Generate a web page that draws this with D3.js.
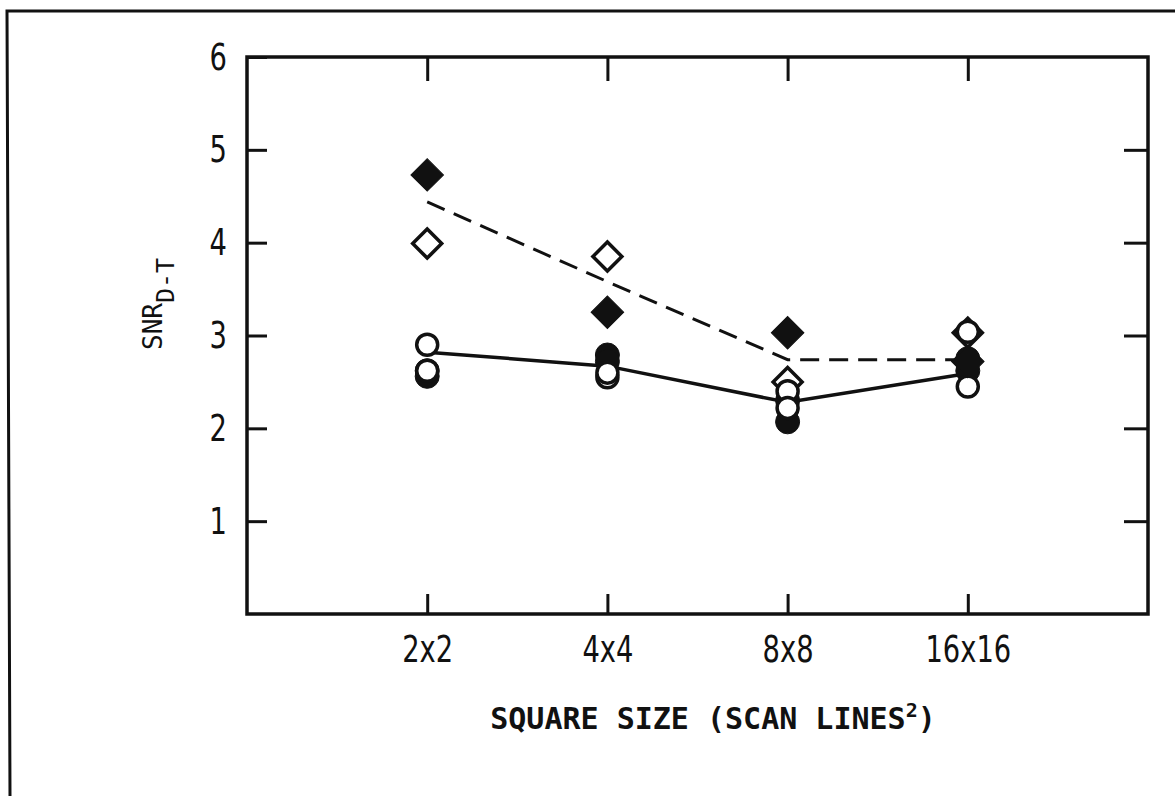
<!DOCTYPE html>
<meta charset="utf-8">
<script src="https://d3js.org/d3.v7.min.js"></script>
<style>
  body { margin: 0; background: #fff; }
</style>
<div id="chart"></div>
<script>

// categories (square side, in scan lines) and their position index on the log2 axis
var sizes = ["2x2", "4x4", "8x8", "16x16"];
var sizeIndex = [1, 2, 3, 4];
var yTicks = [1, 2, 3, 4, 5, 6];

// SNR values, one array per marker type
var filledDiamond = [4.73, 3.25, 3.03, 2.72];
var openDiamond   = [3.99, 3.85, 2.50, 3.03];
var filledCircleA = [2.62, 2.79, 2.07, 2.75];
var filledCircleB = [2.56, 2.72, 2.30, 2.62];
var openCircleA   = [2.90, 2.55, 2.40, 3.04];
var openCircleB   = [2.62, 2.60, 2.22, 2.45];

// mean lines
var diamondMean = [4.44, 3.58, 2.74, 2.74];
var circleMean  = [2.82, 2.67, 2.28, 2.59];

var W = 1175, H = 796;
var ink = "#111";

var svg = d3.select("#chart").append("svg")
    .attr("width", W)
    .attr("height", H)
    .style("background", "#fff");

// outer border of the page (only top and left visible)
svg.append("path")
    .attr("d", "M10,796 L7,11 L1175,11")
    .attr("fill", "none")
    .attr("stroke", ink)
    .attr("stroke-width", 3);

var plotL = 247, plotR = 1148, plotT = 57, plotB = 614;

var x = d3.scaleLinear().domain([0, 5]).range([plotL, plotR]);
var y = d3.scaleLinear().domain([0, 6]).range([plotB, plotT]);

// frame
svg.append("rect")
    .attr("x", plotL).attr("y", plotT)
    .attr("width", plotR - plotL).attr("height", plotB - plotT)
    .attr("fill", "none")
    .attr("stroke", ink)
    .attr("stroke-width", 3.5);

var tickFont = "'Liberation Sans Narrow', 'DejaVu Sans Condensed', sans-serif";

// left axis with labels
var gl = svg.append("g")
    .attr("transform", "translate(" + plotL + ",0)")
    .call(d3.axisLeft(y).tickValues(yTicks).tickFormat(d3.format("d"))
        .tickSizeInner(-20).tickSizeOuter(0).tickPadding(25));
// right axis, ticks only
var gr = svg.append("g")
    .attr("transform", "translate(" + plotR + ",0)")
    .call(d3.axisRight(y).tickValues([1, 2, 3, 4, 5])
        .tickSizeInner(-24).tickSizeOuter(0).tickFormat(""));
// bottom axis with labels
var gb = svg.append("g")
    .attr("transform", "translate(0," + plotB + ")")
    .call(d3.axisBottom(x).tickValues(sizeIndex)
        .tickFormat(function(d) { return sizes[d - 1]; })
        .tickSizeInner(-20).tickSizeOuter(0).tickPadding(21));
// top axis, ticks only
var gt = svg.append("g")
    .attr("transform", "translate(0," + plotT + ")")
    .call(d3.axisTop(x).tickValues(sizeIndex)
        .tickSizeInner(-24).tickSizeOuter(0).tickFormat(""));

[gl, gr, gb, gt].forEach(function(g) {
  g.select(".domain").remove();
  g.selectAll(".tick line").attr("stroke", ink).attr("stroke-width", 3);
  g.selectAll(".tick text")
    .attr("fill", ink)
    .attr("transform", "scale(0.8,1)")
    .style("font-family", tickFont)
    .style("font-size", "38px");
});

// mean lines
var line = d3.line()
    .x(function(d, i) { return x(sizeIndex[i]); })
    .y(function(d) { return y(d); });

svg.append("path")
    .datum(diamondMean)
    .attr("d", line)
    .attr("fill", "none")
    .attr("stroke", ink)
    .attr("stroke-width", 3)
    .attr("stroke-dasharray", "19,10");

svg.append("path")
    .datum(circleMean)
    .attr("d", line)
    .attr("fill", "none")
    .attr("stroke", ink)
    .attr("stroke-width", 3.5);

// markers
var diamond = d3.symbol().type(d3.symbolSquare).size(23 * 23)();
var circle = d3.symbol().type(d3.symbolCircle).size(Math.PI * 12 * 12)();
var ring = d3.symbol().type(d3.symbolCircle).size(Math.PI * 10.5 * 10.5)();
var ringDiamond = d3.symbol().type(d3.symbolSquare).size(20.5 * 20.5)();

function drawSeries(values, path, filled, rotate) {
  svg.append("g").selectAll("path")
    .data(values)
    .enter().append("path")
      .attr("d", path)
      .attr("transform", function(d, i) {
        return "translate(" + x(sizeIndex[i]) + "," + y(d) + ")" + (rotate ? " rotate(45)" : "");
      })
      .attr("fill", filled ? ink : "#fff")
      .attr("stroke", ink)
      .attr("stroke-width", filled ? 1 : 3.5);
}

drawSeries(filledCircleA, circle, true, false);
drawSeries(filledCircleB, circle, true, false);
drawSeries(openDiamond, ringDiamond, false, true);
drawSeries(openCircleA, ring, false, false);
drawSeries(openCircleB, ring, false, false);
drawSeries(filledDiamond, diamond, true, true);

// axis titles
var monoFont = "'DejaVu Sans Mono', monospace";

var xt = svg.append("text")
    .attr("x", 713)
    .attr("y", 729)
    .attr("text-anchor", "middle")
    .attr("fill", ink)
    .style("font-family", monoFont)
    .style("font-size", "30px")
    .style("font-weight", "bold");
xt.append("tspan").text("SQUARE SIZE (SCAN LINES");
xt.append("tspan").attr("dy", -12).style("font-size", "20px").text("2");
xt.append("tspan").attr("dy", 12).text(")");

var yt = svg.append("text")
    .attr("transform", "translate(162,350) rotate(-90)")
    .attr("fill", ink)
    .style("font-family", monoFont)
    .style("font-size", "26px");
yt.append("tspan").text("SNR");
yt.append("tspan").attr("dy", 12).style("font-size", "25px").text("D-T");

</script>
